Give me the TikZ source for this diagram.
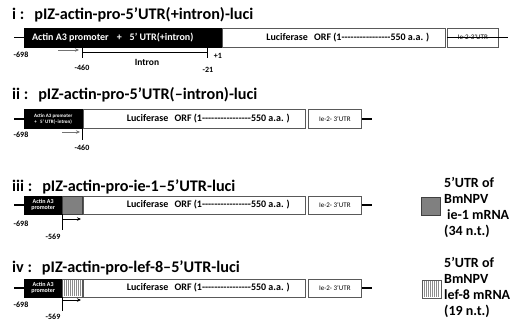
\documentclass[tikz,border=0pt]{standalone}
\usepackage{fontspec}
\setmainfont{Carlito}[Ligatures=TeXOff]
\usetikzlibrary{arrows.meta}
\tikzset{
  ttl/.style={font=\bfseries\fontsize{16.2}{18}\selectfont, anchor=west, inner sep=0pt},
  blk/.style={draw=black, fill=black, text=white, inner sep=0pt, anchor=west, align=center},
  luc/.style={draw=black!65, fill=white, line width=0.7pt, inner sep=0pt, anchor=west, font=\bfseries\fontsize{10}{11}\selectfont},
  utr/.style={draw=black!65, fill=white, line width=0.7pt, inner sep=0pt, anchor=west, font=\fontsize{7}{8}\selectfont},
  gbox/.style={draw=black!75, fill=black!50, line width=0.6pt, inner sep=0pt, anchor=west},
  sbox/.style={draw=black!65, fill=white, line width=0.6pt, inner sep=0pt, anchor=west},
  numlab/.style={font=\bfseries\fontsize{8}{9}\selectfont, inner sep=0pt},
  bb/.style={line width=1.6pt},
  tick/.style={line width=1pt},
  tss/.style={line width=0.9pt, -{Stealth[length=4pt,width=3.5pt]}},
  leg/.style={font=\bfseries\fontsize{14}{16}\selectfont, align=left, anchor=north west, inner sep=0pt},
}
\newcommand{\lucitext}{\hspace*{28pt}Luciferase\hspace{4pt} ORF (1----------------550 a.a. )}
\begin{document}
\begin{tikzpicture}[x=1pt,y=-1pt]
\useasboundingbox (0,0) rectangle (510,325);

% ---------------- row i ----------------
\node[ttl] (t1) at (12,15) {i :\hspace{10pt}pIZ-actin-pro-5’UTR(+intron)-luci};
\node[blk, minimum width=197, minimum height=19, font=\bfseries\fontsize{10}{11}\selectfont] (p1) at (24,37.5) {Actin A3 promoter\hspace{8pt}+\hspace{8pt}5’ UTR(+intron)\hspace*{20pt}};
\node[luc, minimum width=223, minimum height=19] (l1) at (222,37.5) {\lucitext};
\node[utr, minimum width=51, minimum height=19] (u1) at (447,37.5) {Ie-2-3’UTR};
\coordinate (s1) at (14,37.5);
\coordinate (e1) at (508,37.5);
\draw[bb] (s1) -- (p1.west);
\draw[bb] (u1.west) -- (e1);
\node[numlab] (m1) at (21,55) {-698};
\coordinate (i1a) at (82,52);
\coordinate (i1b) at (207,52);
\draw[tick] (82,47) -- (82,58);
\draw[tick] (207,47) -- (207,58);
\draw[tick] (i1a) -- (i1b);
\draw[tss, draw=black!55] (58,50) -- (79,50);
\node[numlab] (n1) at (82,68) {-460};
\node[numlab, font=\bfseries\fontsize{9.5}{10}\selectfont] (in1) at (147,62) {Intron};
\node[numlab] (k1) at (208,70) {-21};
\node[numlab] (o1) at (218,56) {+1};

% ---------------- row ii ----------------
\node[ttl] (t2) at (12,95) {ii :\hspace{10pt}pIZ-actin-pro-5’UTR(–intron)-luci};
\node[blk, minimum width=58, minimum height=19, font=\bfseries\fontsize{5}{5.5}\selectfont] (p2) at (24,119) {Actin A3 promoter\\+\hspace{2pt} 5’ UTR(–intron)};
\node[luc, minimum width=222, minimum height=19] (l2) at (83,119) {\lucitext};
\node[utr, minimum width=53, minimum height=19] (u2) at (308,119) {Ie-2- 3’UTR};
\coordinate (s2) at (14,119);
\coordinate (e2) at (372,119);
\draw[bb] (s2) -- (p2.west);
\draw[bb] (u2.east) -- (e2);
\node[numlab] (m2) at (21,135) {-698};
\draw[tick] (82,128) -- (82,140);
\draw[tss, draw=black!55] (62,132) -- (80,132);
\node[numlab] (n2) at (82,148) {-460};

% ---------------- row iii ----------------
\node[ttl] (t3) at (12,187) {iii :\hspace{10pt}pIZ-actin-pro-ie-1–5’UTR-luci};
\node[blk, minimum width=38, minimum height=18, font=\bfseries\fontsize{6}{6.5}\selectfont] (p3) at (24,205) {Actin A3\\promoter};
\node[gbox, minimum width=20, minimum height=18] (g3) at (62,205) {};
\node[luc, minimum width=222, minimum height=18] (l3) at (83,205) {\lucitext};
\node[utr, minimum width=53, minimum height=18] (u3) at (308,205) {Ie-2- 3’UTR};
\coordinate (s3) at (14,205);
\coordinate (e3) at (372,205);
\draw[bb] (s3) -- (p3.west);
\draw[bb] (u3.east) -- (e3);
\node[numlab] (m3) at (21,224) {-698};
\draw[tick] (62,214) -- (62,230);
\draw[tss] (62,219) -- (81,219);
\node[numlab] (n3) at (53,237) {-569};

% ---------------- row iv ----------------
\node[ttl] (t4) at (12,268) {iv :\hspace{10pt}pIZ-actin-pro-lef-8–5’UTR-luci};
\node[blk, minimum width=38, minimum height=18, font=\bfseries\fontsize{6}{6.5}\selectfont] (p4) at (24,288) {Actin A3\\promoter};
\node[sbox, minimum width=20, minimum height=18] (g4) at (62,288) {};
\foreach \xx in {64,66,...,80} \draw[black!45, line width=0.9pt] (\xx,280) -- (\xx,296);
\node[luc, minimum width=222, minimum height=18] (l4) at (83,288) {\lucitext};
\node[utr, minimum width=53, minimum height=18] (u4) at (308,288) {Ie-2- 3’UTR};
\coordinate (s4) at (14,288);
\coordinate (e4) at (372,288);
\draw[bb] (s4) -- (p4.west);
\draw[bb] (u4.east) -- (e4);
\node[numlab] (m4) at (21,305) {-698};
\draw[tick] (62,297) -- (62,311);
\draw[tss] (62,300) -- (81,300);
\node[numlab] (n4) at (53,317) {-569};

% ---------------- legend ----------------
\node[gbox, minimum width=19, minimum height=18] (lg1) at (421,206) {};
\node[leg] (lt1) at (444,177) {5’UTR of\\BmNPV\\\hspace{3pt}ie-1 mRNA\\(34 n.t.)};
\node[sbox, minimum width=19, minimum height=18] (lg2) at (422,289) {};
\foreach \xx in {424,426,...,439} \draw[black!45, line width=0.9pt] (\xx,281) -- (\xx,297);
\node[leg] (lt2) at (444,257) {5’UTR of\\BmNPV\\lef-8 mRNA\\(19 n.t.)};
\end{tikzpicture}
\end{document}
